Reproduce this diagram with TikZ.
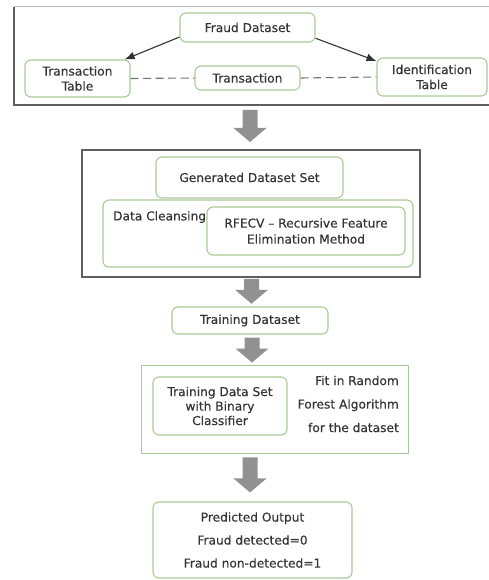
\documentclass[tikz,border=0pt]{standalone}
\usepackage{fontspec}
\setmainfont[FakeBold=0.4]{DejaVu Sans}
\usetikzlibrary{positioning}
\usetikzlibrary{calc}
\usetikzlibrary{arrows.meta}

\definecolor{boxgreen}{RGB}{168,202,150}
\definecolor{txtgray}{RGB}{52,52,52}
\definecolor{framegray}{RGB}{95,95,95}
\definecolor{arrowgray}{RGB}{145,145,145}

\begin{document}
\begin{tikzpicture}[
    x=1pt, y=-1pt,                          % pixel-like units, y going down
    font=\fontsize{12.2}{15}\selectfont,
    ]
% -------------------------------------------------
\tikzset{
  base/.style={draw=boxgreen, line width=1.1pt, text=txtgray, align=center, inner sep=2pt},
  proc/.style={base, rectangle, rounded corners=6pt},
  frame/.style={draw=framegray, line width=1.5pt},
  label/.style={text=txtgray, inner sep=0pt},
  line/.style={draw=black!80, line width=1.1pt, -{Latex[length=10pt,width=8pt]}},
  link/.style={draw=black!55, line width=1.1pt, dash pattern=on 8pt off 4.5pt},
  pics/bigarrow/.style={code={
    \fill[arrowgray] (-7.5,0) -- (7.5,0) -- (7.5,#1-14) -- (16.5,#1-14)
      -- (0,#1) -- (-16.5,#1-14) -- (-7.5,#1-14) -- cycle;}}
}
\useasboundingbox (0,0) rectangle (489,580);
% -------------------------------------------------
% Dataset frame
\draw [framegray!45, line width=1pt] (14,7) -- (489,7);
\draw [frame] (14,7) -- (14,105) -- (489,105);

\node [proc, minimum width=135, minimum height=29] (fraud) at (247.5,27.5) {Fraud Dataset};
\node [proc, minimum width=105, minimum height=37] (ttable) at (77.5,78.5) {Transaction\\Table};
\node [proc, minimum width=105, minimum height=24] (trans) at (247.5,78) {Transaction};
\node [proc, minimum width=110, minimum height=38] (itable) at (432,77) {Identification\\Table};

\path [line] (fraud.188) -- (ttable.22);
\path [line] (fraud.-9) -- (itable.164);
\path [link] (ttable.east) -- (trans.west);
\path [link] (trans.east) -- (itable.west);

\coordinate (c0) at (250,110);
\pic at (c0) {bigarrow=32};

% Feature selection frame
\node [frame, minimum width=338, minimum height=127] (selframe) at (251,213.5) {};
\node [proc, minimum width=187, minimum height=41] (gen) at (249.5,177.5) {Generated Dataset Set};
\node [proc, minimum width=310, minimum height=67] (clean) at (258,233.5) {};
\node [label, anchor=west] (cleanlbl) at (113,217) {Data Cleansing};
\node [proc, minimum width=198, minimum height=48, font=\fontsize{12.2}{16}\selectfont] (rfecv) at (306,231)
  {RFECV -- Recursive Feature\\Elimination Method};

\pic at ($(selframe.south)+(0.5,1)$) {bigarrow=25};

\node [proc, minimum width=156, minimum height=27] (train) at (250,320.5) {Training Dataset};

\pic at ($(train.south)+(2,3)$) {bigarrow=25};

% Classifier box
\node [base, rectangle, line width=0.9pt, minimum width=267, minimum height=88] (fitbox) at (274.5,409) {};
\node [proc, minimum width=134, minimum height=58, font=\fontsize{12.2}{14.5}\selectfont] (binary) at (220,406)
  {Training Data Set\\with Binary\\Classifier};
\node [label, anchor=east, align=right, font=\fontsize{12.2}{23.5}\selectfont] (rf) at (399,404)
  {Fit in Random\\Forest Algorithm\\for the dataset};

\pic at ($(fitbox.south)+(-24.5,4)$) {bigarrow=35};

\node [proc, minimum width=199, minimum height=76, font=\fontsize{12.2}{23}\selectfont] (pred) at (252.5,540)
  {Predicted Output\\Fraud detected=0\\Fraud non-detected=1};

\end{tikzpicture}
\end{document}
